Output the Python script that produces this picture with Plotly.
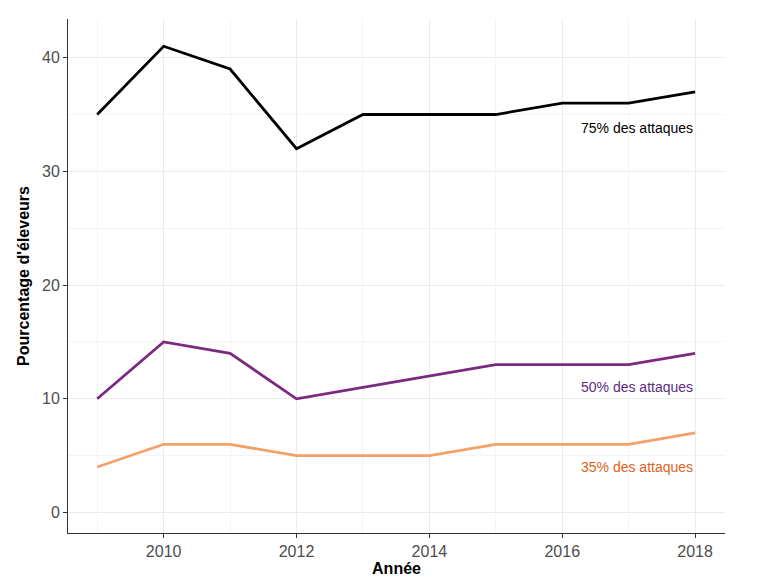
import plotly.graph_objects as go

years = [2009, 2010, 2011, 2012, 2013, 2014, 2015, 2016, 2017, 2018]
s75 = [35, 41, 39, 32, 35, 35, 35, 36, 36, 37]
s50 = [10, 15, 14, 10, 11, 12, 13, 13, 13, 14]
s35 = [4, 6, 6, 5, 5, 5, 6, 6, 6, 7]
labels = ["75% des attaques", "50% des attaques", "35% des attaques"]
label_y = [33.8, 11.0, 4.0]
line_colors = ["#000000", "#7B2A7F", "#F4A06A"]
text_colors = ["#000000", "#5B2C83", "#E0611E"]

fig = go.Figure()
for ys, c in zip([s75, s50, s35], line_colors):
    fig.add_trace(go.Scatter(x=years, y=ys, mode="lines", line=dict(color=c, width=2.8), showlegend=False))
for t, y, c in zip(labels, label_y, text_colors):
    fig.add_annotation(x=2018, y=y, text=t, showarrow=False, xanchor="right", yanchor="middle",
                       font=dict(size=14, color=c, family="Liberation Sans"))

fig.update_layout(
    width=781, height=576, plot_bgcolor="white", paper_bgcolor="white",
    margin=dict(l=60, r=64, t=11, b=46),
    font=dict(family="Liberation Sans"),
)
fig.update_xaxes(range=[2008.56, 2018.45], tickvals=[2010, 2012, 2014, 2016, 2018],
                 title=dict(text="<b>Année</b>", font=dict(size=16, color="black"), standoff=2),
                 tickfont=dict(size=16, color="#4d4d4d"), showgrid=True, gridcolor="#ebebeb",
                 minor=dict(tickvals=[2009, 2011, 2013, 2015, 2017], showgrid=True, gridcolor="#f4f4f4"),
                 showline=True, linecolor="#333333", linewidth=1, ticks="outside", ticklen=4, tickcolor="#333333",
                 zeroline=False)
fig.update_yaxes(range=[-1.8, 43.4], tickvals=[0, 10, 20, 30, 40],
                 title=dict(text="<b>Pourcentage d'éleveurs</b>", font=dict(size=16, color="black"), standoff=8),
                 tickfont=dict(size=16, color="#4d4d4d"), showgrid=True, gridcolor="#ebebeb",
                 minor=dict(tickvals=[5, 15, 25, 35], showgrid=True, gridcolor="#f4f4f4"),
                 showline=True, linecolor="#333333", linewidth=1, ticks="outside", ticklen=4, tickcolor="#333333",
                 zeroline=False)
fig.write_html("out.html")
